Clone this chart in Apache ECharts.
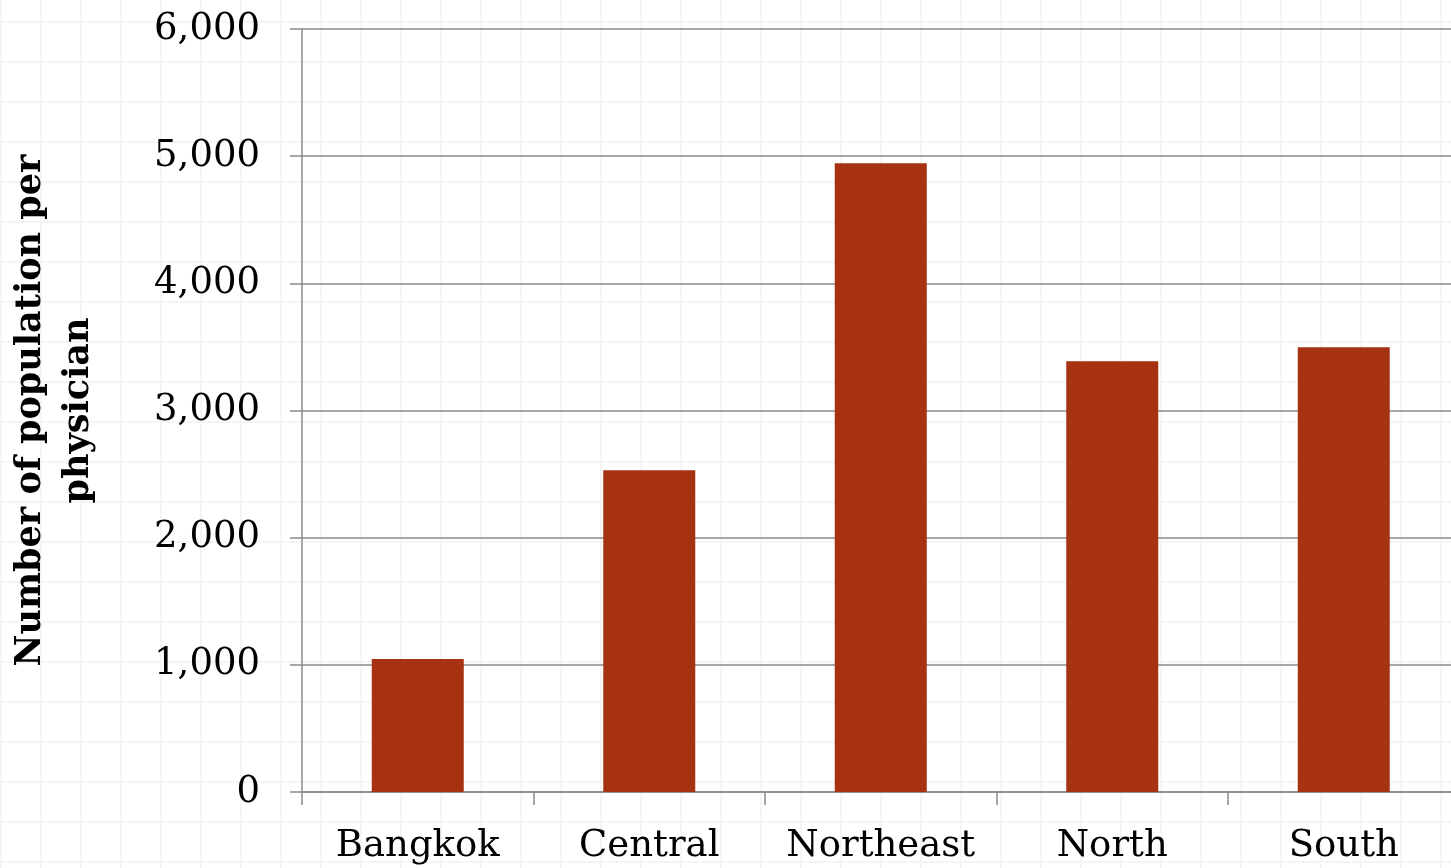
<!DOCTYPE html>
<html>
<head>
<meta charset="utf-8">
<script src="https://cdn.jsdelivr.net/npm/echarts@6/dist/echarts.min.js"></script>
<style>
html,body{margin:0;padding:0;background:#fff;}
#chart{
  width:1451px;height:868px;
  background-color:#fff;
  background-image:
    linear-gradient(to right, #f5f5f5 2px, transparent 2px),
    linear-gradient(to bottom, #f5f5f5 2px, transparent 2px);
  background-size:40px 40px;
  background-position:0px 21px;
}
</style>
</head>
<body>
<div id="chart"></div>
<script>
const categories = ['Bangkok', 'Central', 'Northeast', 'North', 'South'];
const populationPerPhysician = [1046, 2531, 4945, 3388, 3498];
const yAxisTitle = 'Number of population per\nphysician';

const chart = echarts.init(document.getElementById('chart'), null, {renderer: 'canvas'});
const axisGray = '#8a8a8a';
chart.setOption({
  backgroundColor: 'transparent',
  animation: false,
  grid: {left: 302, top: 29, right: -8.5, bottom: 76, containLabel: false, outerBoundsMode: 'none'},
  xAxis: {
    type: 'category',
    data: categories,
    axisLine: {show: true, lineStyle: {color: axisGray, width: 1.5}},
    axisTick: {show: true, length: 13, alignWithLabel: false, lineStyle: {color: axisGray, width: 1.5}},
    axisLabel: {fontFamily: 'DejaVu Serif', fontSize: 37, color: '#000', margin: 36, interval: 0},
    splitLine: {show: false}
  },
  yAxis: {
    type: 'value',
    min: 0, max: 6000, interval: 1000,
    name: yAxisTitle,
    nameLocation: 'middle',
    nameRotate: 90,
    nameGap: 199,
    nameTextStyle: {fontFamily: 'DejaVu Serif', fontWeight: 'bold', fontSize: 35, color: '#000', lineHeight: 48, align: 'center'},
    axisLine: {show: true, lineStyle: {color: axisGray, width: 1.5}},
    axisTick: {show: true, length: 12, lineStyle: {color: axisGray, width: 1.5}},
    axisLabel: {
      fontFamily: 'DejaVu Serif', fontSize: 37, color: '#000', margin: 42,
      formatter: v => v.toLocaleString('en-US')
    },
    splitLine: {show: true, lineStyle: {color: axisGray, width: 1.5}}
  },
  series: [{
    type: 'bar',
    data: populationPerPhysician,
    barWidth: 92,
    itemStyle: {color: '#A63212'}
  }]
});
</script>
</body>
</html>
